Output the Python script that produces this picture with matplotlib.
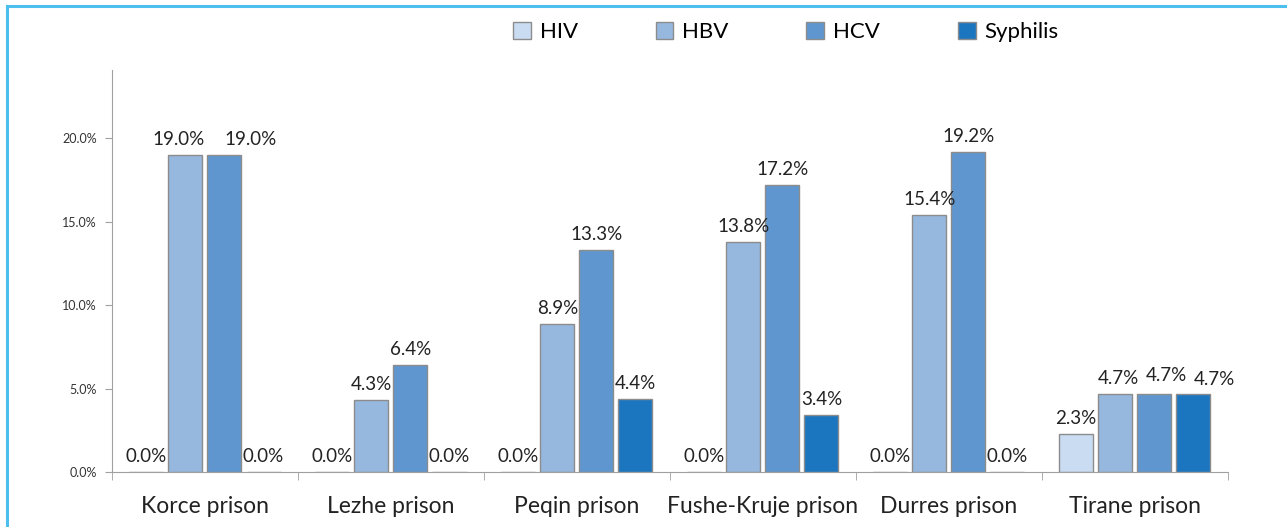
import numpy as np
import matplotlib.pyplot as plt
from matplotlib.lines import Line2D
from matplotlib.ticker import FuncFormatter

plt.rcParams['font.family'] = ['Lato', 'DejaVu Sans']

prisons = ["Korce prison", "Lezhe prison", "Peqin prison",
           "Fushe-Kruje prison", "Durres prison", "Tirane prison"]
series = ["HIV", "HBV", "HCV", "Syphilis"]
hiv = [0.0, 0.0, 0.0, 0.0, 0.0, 2.3]
hbv = [19.0, 4.3, 8.9, 13.8, 15.4, 4.7]
hcv = [19.0, 6.4, 13.3, 17.2, 19.2, 4.7]
syphilis = [0.0, 0.0, 4.4, 3.4, 0.0, 4.7]
colors = ["#c9dcf2", "#96b8df", "#6096d0", "#1b76bf"]

values = [hiv, hbv, hcv, syphilis]

# hand-placed labels in the original (series index, prison index) -> (dx, dy) pixels
nudge = {(1, 0): (-7, 0), (2, 0): (26, 0),
         (1, 5): (3, 0), (2, 5): (12, 3), (3, 5): (21, -1)}

fig = plt.figure(figsize=(12.87, 5.27), dpi=100)
ax = fig.add_axes([0.087, 0.1044, 0.867, 0.7626])

x = np.arange(len(prisons))
slot = 0.21
width = 0.183
for k, (name, vals, col) in enumerate(zip(series, values, colors)):
    pos = x + (k - 1.5) * slot
    ax.bar(pos, vals, width, color=col, edgecolor="#8c8c8c", linewidth=1.0,
           label=name, zorder=2)
    for i, (p, v) in enumerate(zip(pos, vals)):
        dx, dy = nudge.get((k, i), (0, 0))
        ax.annotate(f"{v:.1f}%", (p, v), xytext=(dx * 0.72, 5 + dy * 0.72),
                    textcoords="offset points",
                    ha="center", va="bottom", fontsize=13.5, color="#222222")

ax.set_xlim(-0.5, 5.5)
ax.set_ylim(0, 24.1)
ax.set_yticks([0, 5, 10, 15, 20])
ax.yaxis.set_major_formatter(FuncFormatter(lambda v, _: f"{v:.1f}%"))
ax.tick_params(axis="y", labelsize=9, length=5, color="#a0a0a0", labelcolor="#333333", pad=6)

ax.set_xticks(x)
ax.set_xticklabels(prisons, fontsize=16.5, color="#222222")
ax.tick_params(axis="x", which="major", length=0, pad=17)
ax.set_xticks(np.arange(-0.5, 6.0, 1.0), minor=True)
ax.tick_params(axis="x", which="minor", length=6, color="#a0a0a0")

for s in ["top", "right"]:
    ax.spines[s].set_visible(False)
ax.spines["left"].set_color("#a0a0a0")
ax.spines["bottom"].set_color("#a0a0a0")

ax.legend(loc="center left", bbox_to_anchor=(0.3595, 1.095), ncol=4, frameon=False,
          fontsize=16, columnspacing=3.5, handlelength=0.8, handleheight=0.8,
          handletextpad=0.4, borderaxespad=0, borderpad=0)

# light blue frame (left and top edges visible in the reference)
fig.add_artist(Line2D([7 / 1287, 7 / 1287], [0, 1 - 6 / 527], transform=fig.transFigure,
                      color="#4dbfee", linewidth=2.2))
fig.add_artist(Line2D([7 / 1287, 1], [1 - 6 / 527, 1 - 6 / 527], transform=fig.transFigure,
                      color="#4dbfee", linewidth=2.2))

fig.savefig("out.png", dpi=100)
